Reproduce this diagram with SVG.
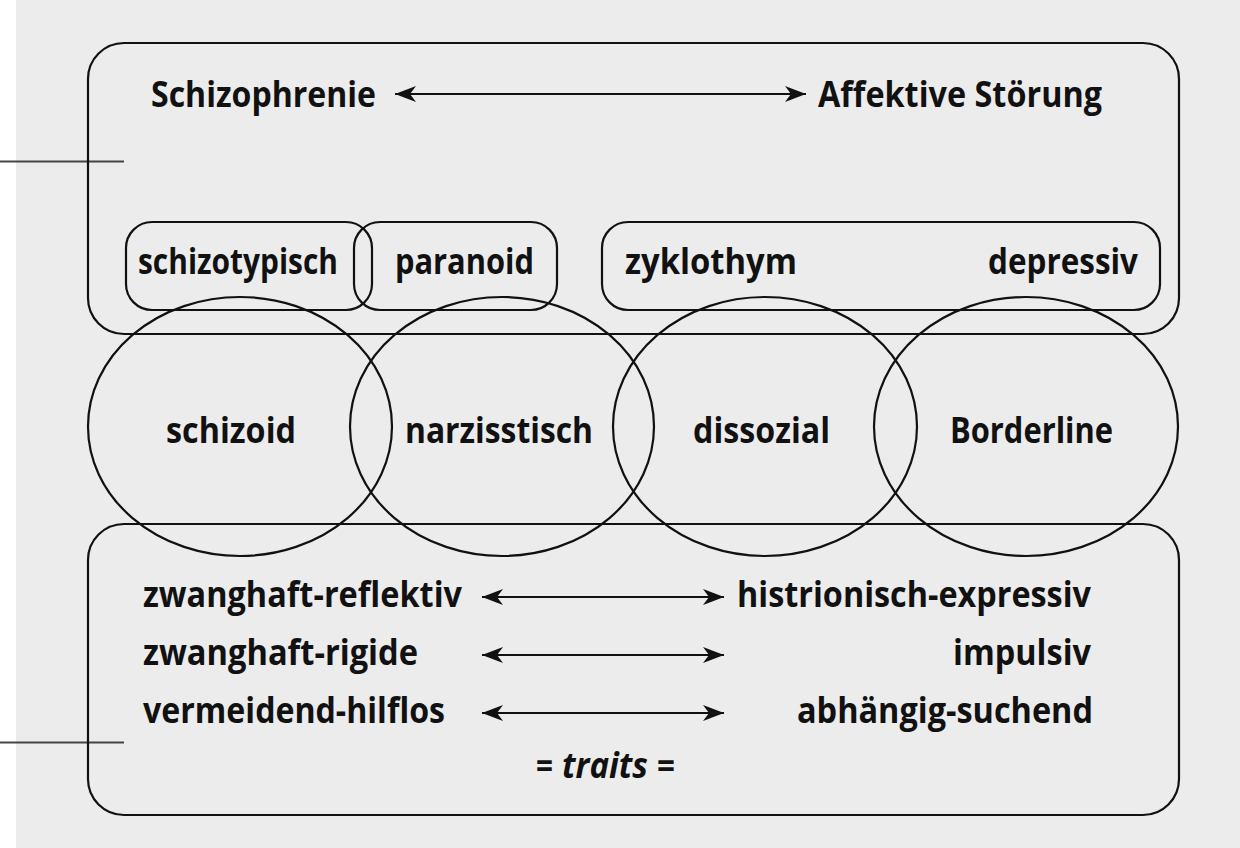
<svg xmlns="http://www.w3.org/2000/svg" width="1240" height="848" viewBox="0 0 1240 848">
<style>
.t{font-family:"Open Sans","Noto Sans","DejaVu Sans",sans-serif;font-weight:bold;font-size:35px;fill:#111}
.i{font-style:italic}
.b{fill:none;stroke:#111;stroke-width:2.2}
.c{fill:none;stroke:#111;stroke-width:2.2}
.a{fill:none;stroke:#111;stroke-width:2;marker-start:url(#ah);marker-end:url(#ah)}
.l{fill:none;stroke:#444;stroke-width:2}
</style>
<defs>
<marker id="ah" markerUnits="userSpaceOnUse" markerWidth="26" markerHeight="20" refX="22" refY="9" orient="auto-start-reverse">
<path d="M1,1 L22,9 L1,17 L7,9 Z" fill="#111"/>
</marker>
</defs>
<rect x="0" y="0" width="1240" height="848" fill="#ffffff"/>
<rect x="16" y="0" width="1224" height="848" fill="#ececec"/>
<g id="connectors">
<line class="l" x1="0" y1="161.5" x2="124" y2="161.5"/>
<line class="l" x1="0" y1="742.5" x2="124" y2="742.5"/>
<line class="a" x1="395" y1="94" x2="806" y2="94"/>
<line class="a" x1="482" y1="597" x2="724" y2="597"/>
<line class="a" x1="482" y1="655" x2="724" y2="655"/>
<line class="a" x1="482" y1="713" x2="724" y2="713"/>
</g>
<g id="top-box">
<rect class="b" x="88" y="43" width="1091" height="291" rx="36" ry="36"/>
<text class="t" x="151" y="107" textLength="225" lengthAdjust="spacingAndGlyphs">Schizophrenie</text>
<text class="t" x="818" y="107" textLength="284" lengthAdjust="spacingAndGlyphs">Affektive Störung</text>
</g>
<g id="schizotypisch">
<rect class="b" x="126" y="222" width="246" height="88" rx="26" ry="26"/>
<text class="t" x="138" y="274" textLength="200" lengthAdjust="spacingAndGlyphs">schizotypisch</text>
</g>
<g id="paranoid">
<rect class="b" x="354" y="222" width="203" height="88" rx="26" ry="26"/>
<text class="t" x="395" y="274" textLength="139" lengthAdjust="spacingAndGlyphs">paranoid</text>
</g>
<g id="zyklothym-depressiv">
<rect class="b" x="602" y="222" width="558" height="88" rx="26" ry="26"/>
<text class="t" x="625" y="274" textLength="172" lengthAdjust="spacingAndGlyphs">zyklothym</text>
<text class="t" x="988" y="274" textLength="150" lengthAdjust="spacingAndGlyphs">depressiv</text>
</g>
<g id="schizoid">
<ellipse class="c" cx="240" cy="426.5" rx="152" ry="129.5"/>
<text class="t" x="166" y="443" textLength="130" lengthAdjust="spacingAndGlyphs">schizoid</text>
</g>
<g id="narzisstisch">
<ellipse class="c" cx="502" cy="426.5" rx="152" ry="129.5"/>
<text class="t" x="405" y="443" textLength="188" lengthAdjust="spacingAndGlyphs">narzisstisch</text>
</g>
<g id="dissozial">
<ellipse class="c" cx="765" cy="426.5" rx="152" ry="129.5"/>
<text class="t" x="693" y="443" textLength="137" lengthAdjust="spacingAndGlyphs">dissozial</text>
</g>
<g id="borderline">
<ellipse class="c" cx="1026" cy="426.5" rx="152" ry="129.5"/>
<text class="t" x="950" y="443" textLength="163" lengthAdjust="spacingAndGlyphs">Borderline</text>
</g>
<g id="traits-box">
<rect class="b" x="88" y="524" width="1091" height="291" rx="36" ry="36"/>
<text class="t" x="143" y="607" textLength="319" lengthAdjust="spacingAndGlyphs">zwanghaft-reflektiv</text>
<text class="t" x="143" y="665" textLength="275" lengthAdjust="spacingAndGlyphs">zwanghaft-rigide</text>
<text class="t" x="143" y="723" textLength="302" lengthAdjust="spacingAndGlyphs">vermeidend-hilflos</text>
<text class="t" x="737" y="607" textLength="354" lengthAdjust="spacingAndGlyphs">histrionisch-expressiv</text>
<text class="t" x="953" y="665" textLength="138" lengthAdjust="spacingAndGlyphs">impulsiv</text>
<text class="t" x="797" y="723" textLength="296" lengthAdjust="spacingAndGlyphs">abhängig-suchend</text>
<text class="t" x="536" y="778" textLength="17" lengthAdjust="spacingAndGlyphs">=</text>
<text class="t i" x="562" y="778" textLength="86" lengthAdjust="spacingAndGlyphs">traits</text>
<text class="t" x="657" y="778" textLength="18" lengthAdjust="spacingAndGlyphs">=</text>
</g>
</svg>
